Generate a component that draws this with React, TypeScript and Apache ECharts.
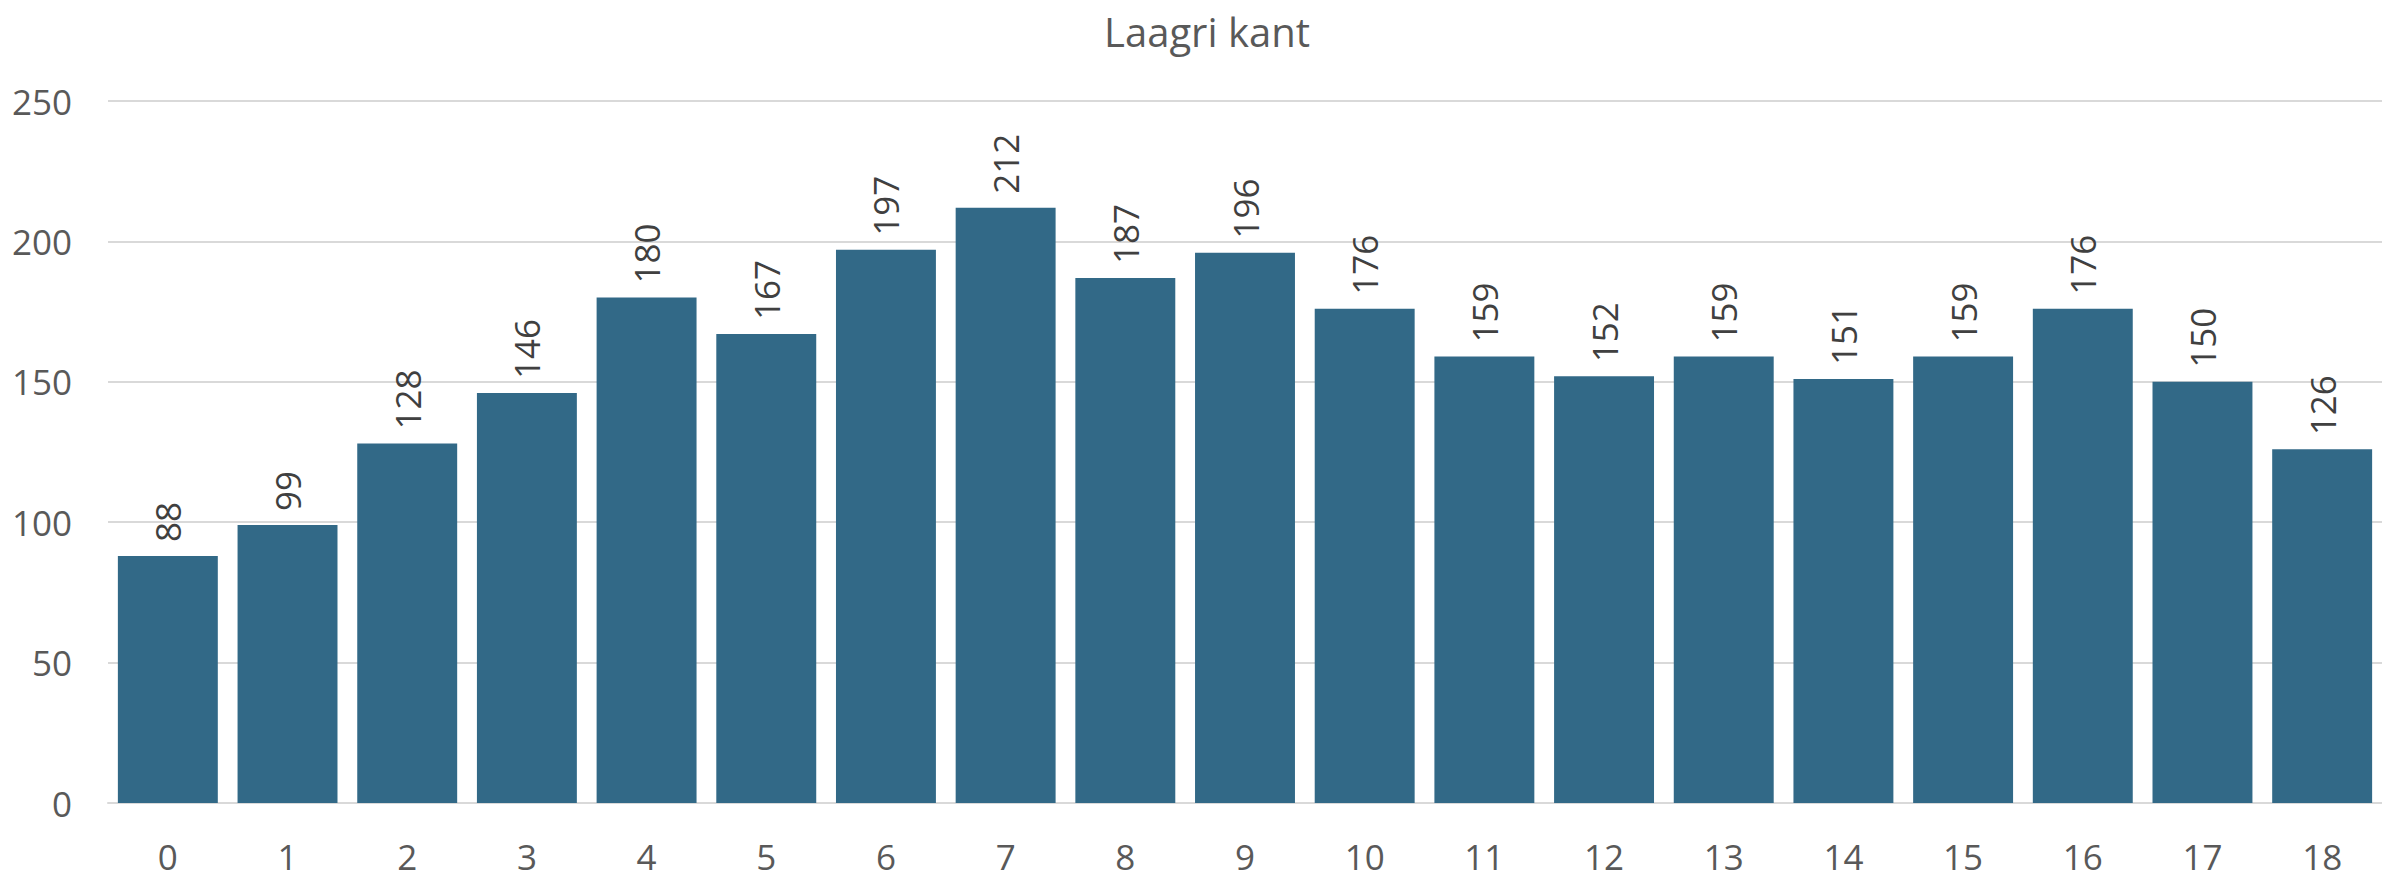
import React, { useEffect, useRef } from "react";
import * as echarts from "echarts";

const categories = ["0","1","2","3","4","5","6","7","8","9","10","11","12","13","14","15","16","17","18"];
const values = [88, 99, 128, 146, 180, 167, 197, 212, 187, 196, 176, 159, 152, 159, 151, 159, 176, 150, 126];
const titleText = "Laagri kant";

export default function App() {
  const ref = useRef<HTMLDivElement>(null);
  useEffect(() => {
    if (!ref.current) return;
    const chart = echarts.init(ref.current, null, { renderer: "svg" });
    const font = "'Open Sans', 'Noto Sans', sans-serif";
    chart.setOption({
      animation: false,
      backgroundColor: "#ffffff",
      title: {
        text: titleText,
        left: 1202,
        textAlign: "center",
        top: 6,
        textStyle: { fontFamily: font, fontSize: 40, fontWeight: "normal", color: "#595959" },
      },
      grid: { left: 108, right: 0, top: 101, bottom: 76, containLabel: false },
      xAxis: {
        type: "category",
        data: categories,
        axisTick: { show: false },
        axisLine: { show: true, lineStyle: { color: "#d9d9d9", width: 2 } },
        axisLabel: { fontFamily: font, fontSize: 35, color: "#595959", margin: 36 },
      },
      yAxis: {
        type: "value",
        min: 0,
        max: 250,
        interval: 50,
        axisLine: { show: false },
        axisTick: { show: false },
        splitLine: { lineStyle: { color: "#d9d9d9", width: 2 } },
        axisLabel: { fontFamily: font, fontSize: 35, color: "#595959", margin: 36 },
      },
      series: [
        {
          type: "bar",
          data: values,
          barCategoryGap: "16.5%",
          itemStyle: { color: "#326987" },
          label: {
            show: true,
            position: "top",
            rotate: 90,
            align: "left",
            verticalAlign: "middle",
            distance: 14,
            fontFamily: font,
            fontSize: 35,
            color: "#404040",
          },
        },
      ],
    });
    return () => chart.dispose();
  }, []);
  return (
    <div
      ref={ref}
      style={{ position: "fixed", left: 0, top: 0, width: 2382, height: 879 }}
    />
  );
}
